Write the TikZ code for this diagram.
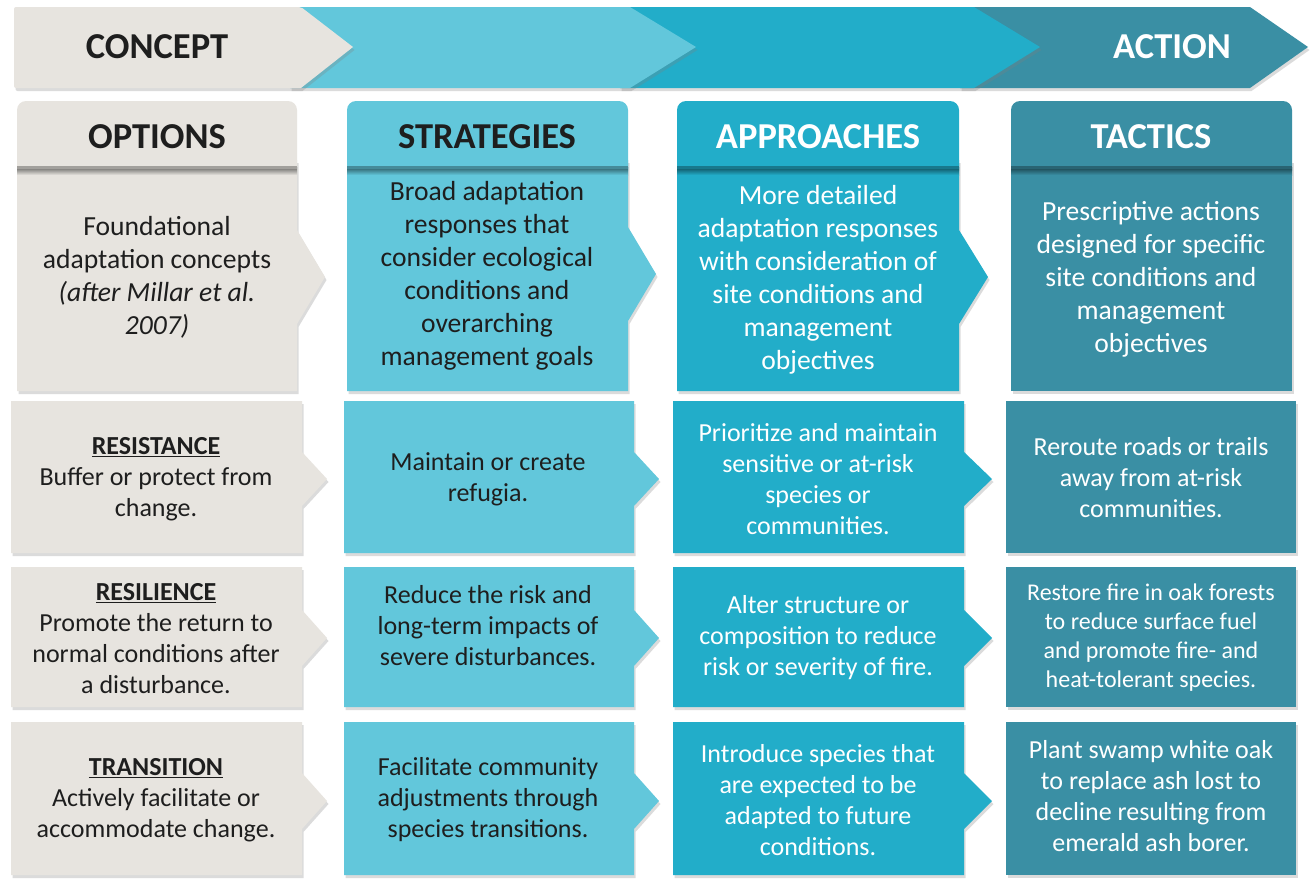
\documentclass[tikz,border=0pt]{standalone}
\usepackage{fontspec}
\setmainfont{Carlito}
\usetikzlibrary{shadows}
\definecolor{cgray}{HTML}{E7E4DF}
\definecolor{clight}{HTML}{62C7DB}
\definecolor{cmid}{HTML}{22ADC9}
\definecolor{cteal}{HTML}{3A8FA4}
\definecolor{ctext}{HTML}{1E1E1E}
\newcommand{\hdfont}{\fontsize{36.5}{40}\selectfont\bfseries}
\newcommand{\bfont}{\fontsize{27.6}{33}\selectfont}
\newcommand{\sfont}{\fontsize{26}{31}\selectfont}
\newcommand{\tfont}{\fontsize{24}{29}\selectfont}
% arrow box: x1,y1,x2,y2,tipy,half,depth,style
\newcommand{\arrbox}[8]{\path[#8] (#1,#2) -- (#3,#2) -- (#3,#5-#6) -- (#3+#7,#5) -- (#3,#5+#6) -- (#3,#4) -- (#1,#4) -- cycle;}
\begin{document}
\begin{tikzpicture}[x=1pt,y=-1pt,
  shd/.style={drop shadow={opacity=0.28,shadow xshift=1.5pt,shadow yshift=-3pt}},
  gbox/.style={fill=cgray,shd},
  lbox/.style={fill=clight,shd},
  mbox/.style={fill=cmid,shd},
  tbox/.style={fill=cteal,shd},
  dtxt/.style={align=center,text=ctext,inner sep=0pt},
  wtxt/.style={align=center,text=white,inner sep=0pt},
  hdr/.style={font=\hdfont},
  ]
\useasboundingbox (0,0) rectangle (1312,879);
\fill[white] (0,0) rectangle (1312,879);
% ---------- banner ----------
\path[tbox] (960,7) -- (1250,7) -- (1308,47) -- (1250,88) -- (960,88) -- cycle;
\path[mbox] (620,7) -- (974,7) -- (1040,47) -- (974,88) -- (620,88) -- cycle;
\path[lbox] (290,7) -- (630,7) -- (696,47) -- (630,88) -- (290,88) -- cycle;
\path[gbox,rounded corners=2pt] (14,7) -- (301,7) [sharp corners] -- (353,47) -- (301,88) [rounded corners=2pt] -- (14,88) -- cycle;
\node[dtxt,hdr] (concept) at (157,47) {CONCEPT};
\node[wtxt,hdr] (action) at (1172,47) {ACTION};
% ---------- row 1 (headers + descriptions) ----------
\arrbox{17}{160}{297}{391}{277}{47}{28}{gbox}
\arrbox{347}{160}{628}{391}{274}{47}{28}{lbox}
\arrbox{677}{160}{959}{391}{277}{47}{29}{mbox}
\path[tbox] (1011,160) rectangle (1292,391);
\fill[cgray,rounded corners=9pt] (17,101) rectangle (297,180);
\fill[clight,rounded corners=9pt] (347,101) rectangle (628,180);
\fill[cmid,rounded corners=9pt] (677,101) rectangle (959,180);
\fill[cteal,rounded corners=9pt] (1011,101) rectangle (1292,180);
\foreach \a/\b/\c in {17/297/cgray,347/628/clight,677/959/cmid,1011/1292/cteal}{
  \fill[top color=black!55!\c, bottom color=\c] (\a,167) rectangle (\b,175);
  \fill[black!30!\c] (\a,166) rectangle (\b,168.5);
}
\node[dtxt,hdr] (h1) at (157,137) {OPTIONS};
\node[dtxt,hdr] (h2) at (487,137) {STRATEGIES};
\node[wtxt,hdr] (h3) at (818,137) {APPROACHES};
\node[wtxt,hdr] (h4) at (1151,137) {TACTICS};
\node[dtxt,font=\bfont] (d1) at (157,277) {Foundational\\adaptation concepts\\\textit{(after Millar et al.}\\\textit{2007)}};
\node[dtxt,font=\bfont] (d2) at (487,276) {Broad adaptation\\responses that\\consider ecological\\conditions and\\overarching\\management goals};
\node[wtxt,font=\bfont] (d3) at (818,280) {More detailed\\adaptation responses\\with consideration of\\site conditions and\\management\\objectives};
\node[wtxt,font=\bfont] (d4) at (1151,279) {Prescriptive actions\\designed for specific\\site conditions and\\management\\objectives};
% ---------- row 2 ----------
\arrbox{11}{401}{302}{553}{479}{27}{25}{gbox}
\arrbox{344}{401}{634}{553}{479}{27}{25}{lbox}
\arrbox{673}{401}{964}{553}{479}{27}{28}{mbox}
\path[tbox] (1006,401) rectangle (1296,553);
\node[dtxt,font=\sfont] (r1) at (156,479) {\textbf{\underline{RESISTANCE}}\\Buffer or protect from\\change.};
\node[dtxt,font=\sfont] (s1) at (488,479) {Maintain or create\\refugia.};
\node[wtxt,font=\sfont] (a1) at (818,479) {Prioritize and maintain\\sensitive or at-risk\\species or\\communities.};
\node[wtxt,font=\sfont] (t1) at (1151,478) {Reroute roads or trails\\away from at-risk\\communities.};
% ---------- row 3 ----------
\arrbox{11}{567}{302}{707}{638}{28}{25}{gbox}
\arrbox{344}{567}{634}{707}{638}{28}{25}{lbox}
\arrbox{673}{567}{964}{707}{638}{28}{28}{mbox}
\path[tbox] (1006,567) rectangle (1296,707);
\node[dtxt,font=\sfont] (r2) at (156,639) {\textbf{\underline{RESILIENCE}}\\Promote the return to\\normal conditions after\\a disturbance.};
\node[dtxt,font=\sfont] (s2) at (488,626) {Reduce the risk and\\long-term impacts of\\severe disturbances.};
\node[wtxt,font=\sfont] (a2) at (818,638) {Alter structure or\\composition to reduce\\risk or severity of fire.};
\node[wtxt,font=\tfont] (t2) at (1151,638) {Restore fire in oak forests\\to reduce surface fuel\\and promote fire- and\\heat-tolerant species.};
% ---------- row 4 ----------
\arrbox{11}{722}{302}{875}{801}{28}{25}{gbox}
\arrbox{344}{722}{634}{875}{801}{28}{25}{lbox}
\arrbox{673}{722}{964}{875}{801}{28}{28}{mbox}
\path[tbox] (1006,722) rectangle (1296,875);
\node[dtxt,font=\sfont] (r3) at (156,800) {\textbf{\underline{TRANSITION}}\\Actively facilitate or\\accommodate change.};
\node[dtxt,font=\sfont] (s3) at (488,800) {Facilitate community\\adjustments through\\species transitions.};
\node[wtxt,font=\sfont] (a3) at (818,800) {Introduce species that\\are expected to be\\adapted to future\\conditions.};
\node[wtxt,font=\sfont] (t3) at (1151,796) {Plant swamp white oak\\to replace ash lost to\\decline resulting from\\emerald ash borer.};
\end{tikzpicture}
\end{document}
